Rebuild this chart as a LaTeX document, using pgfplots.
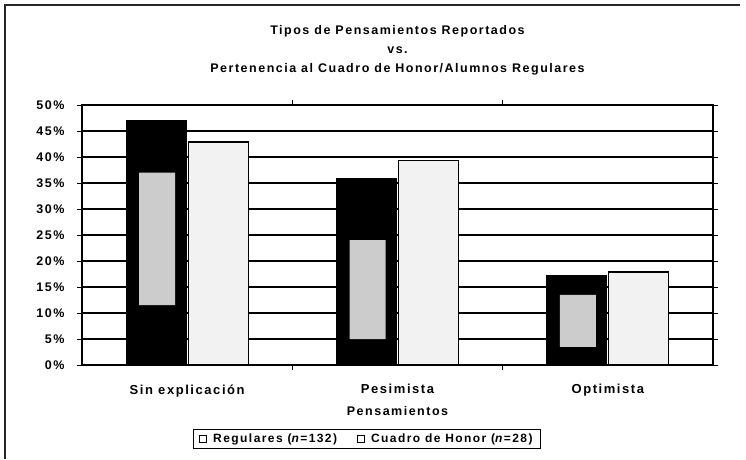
\documentclass[border=0pt]{standalone}
\usepackage{pgfplots}
\pgfplotsset{compat=1.18}
\usepackage{fontspec}
\setmainfont{Liberation Sans}[LetterSpace=12]
\begin{document}
\begin{tikzpicture}
\useasboundingbox (0pt,0pt) rectangle (746pt,459pt);
\draw[line width=1.2pt, black!85] (5pt,0pt) -- (5pt,454pt) -- (740pt,454pt);
\begin{axis}[
  at={(82pt,94pt)}, anchor=south west,
  scale only axis, width=631pt, height=260pt,
  ybar, bar width=60pt,
  xmin=-0.5, xmax=2.5, ymin=0, ymax=50,
  xtick={0,1,2},
  xticklabels={Sin explicación, Pesimista, Optimista},
  xtick style={draw=none},
  extra x ticks={0.5,1.5},
  extra x tick labels={},
  extra x tick style={grid=none, xtick style={draw=black, line width=1pt}},
  ytick={0,5,...,50},
  yticklabels={0\%,5\%,10\%,15\%,20\%,25\%,30\%,35\%,40\%,45\%,50\%},
  tick align=outside, major tick length=5pt,
  ytick style={line width=1pt, black},
  ymajorgrids, major grid style={line width=1.2pt, black},
  axis line style={line width=1.4pt, black},
  every tick label/.append style={font=\bfseries\fontsize{12.5}{14}\selectfont},
  xticklabel style={yshift=-11pt, font=\bfseries\fontsize{13}{14}\selectfont},
  yticklabel style={xshift=-9pt},
  xlabel={Pensamientos},
  xlabel style={font=\bfseries\fontsize{12.5}{14}\selectfont, yshift=7pt},
  title={Tipos de Pensamientos Reportados\\vs.\\Pertenencia al Cuadro de Honor/Alumnos Regulares},
  title style={font=\bfseries\fontsize{12.5}{19}\selectfont, align=center, at={(0.5,1.188)}, anchor=center},
  legend columns=2,
  legend style={at={(0.4517,-0.2846)}, anchor=center, draw=black, line width=1pt,
    font=\bfseries\fontsize{12}{14}\selectfont, inner xsep=6pt, inner ysep=2pt,
    /tikz/every even column/.append style={column sep=18pt}},
  legend image code/.code={\draw[black, fill=white, line width=0.8pt] (0pt,-3.5pt) rectangle (7pt,3.5pt); \path (11pt,0pt);},
]
\addplot[draw=black, line width=0.8pt, fill=black] coordinates {(0,47.1) (1,35.9) (2,17.3)};
\addplot[draw=black, line width=1.2pt, fill=gray!10] coordinates {(0,42.9) (1,39.3) (2,17.9)};
\legend{Regulares (\textit{n}=132), Cuadro de Honor (\textit{n}=28)}
\end{axis}
\begin{axis}[
  at={(82pt,94pt)}, anchor=south west,
  scale only axis, width=631pt, height=260pt,
  xmin=-0.5, xmax=2.5, ymin=0, ymax=50,
  hide axis,
  ybar stacked, bar width=36pt, bar shift=-30pt,
]
\addplot[draw=none, fill=none] coordinates {(0,11.5) (1,5) (2,3.5)};
\addplot[draw=none, fill=gray!40] coordinates {(0,25.5) (1,19) (2,10)};
\end{axis}
\end{tikzpicture}
\end{document}
